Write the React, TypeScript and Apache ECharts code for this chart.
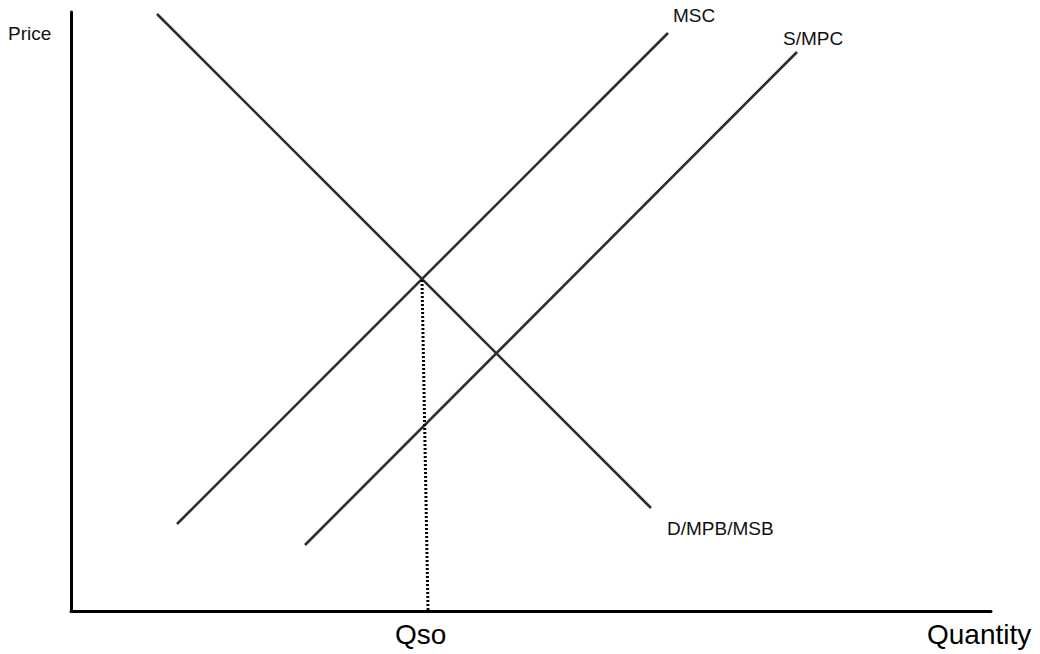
import React, { useEffect, useRef } from "react";
import * as echarts from "echarts";

// Curves as [quantity, price] endpoints (chart units)
const demandMPB: [number, number][] = [[86, 597], [580, 103]];
const mscCurve: [number, number][] = [[106, 87], [597, 578]];
const supplyMPC: [number, number][] = [[234, 66], [726, 559]];
const qsoDrop: [number, number][] = [[351, 331], [357, 1]];

const curveNames = ["D/MPB/MSB", "MSC", "S/MPC"];
const axisTitles = { y: "Price", x: "Quantity", q: "Qso" };

const LINE = "#2e2e2e";
const FONT = "Liberation Sans, Arial, sans-serif";

export default function App() {
  const ref = useRef<HTMLDivElement>(null);
  useEffect(() => {
    if (!ref.current) return;
    const chart = echarts.init(ref.current, undefined, { renderer: "svg" });
    const lineSeries = (name: string, data: [number, number][]) => ({
      name,
      type: "line",
      data,
      symbol: "none",
      silent: true,
      lineStyle: { color: LINE, width: 2.6 },
    });
    const txt = (text: string, x: number, y: number, size: number, fill: string) => ({
      type: "text",
      left: x,
      top: y,
      silent: true,
      style: { text, fill, font: `${size}px ${FONT}` },
    });
    chart.setOption({
      animation: false,
      backgroundColor: "#ffffff",
      grid: { left: 71, right: 49, top: 12, bottom: 43 },
      xAxis: {
        type: "value",
        min: 0,
        max: 920,
        axisLine: { show: true, lineStyle: { color: "#000", width: 3 } },
        axisTick: { show: false },
        axisLabel: { show: false },
        splitLine: { show: false },
      },
      yAxis: {
        type: "value",
        min: 0,
        max: 599,
        axisLine: { show: true, lineStyle: { color: "#000", width: 3 } },
        axisTick: { show: false },
        axisLabel: { show: false },
        splitLine: { show: false },
      },
      series: [
        lineSeries(curveNames[0], demandMPB),
        lineSeries(curveNames[1], mscCurve),
        lineSeries(curveNames[2], supplyMPC),
        {
          name: "Qso",
          type: "line",
          data: qsoDrop,
          symbol: "none",
          silent: true,
          lineStyle: { color: "#000", width: 3, type: [2, 2] },
        },
      ],
      graphic: [
        txt(axisTitles.y, 8, 24, 19, "#111"),
        txt(curveNames[1], 673, 6, 19, "#111"),
        txt(curveNames[2], 783, 29, 19, "#111"),
        txt(curveNames[0], 667, 519, 19, "#111"),
        txt(axisTitles.q, 395, 620, 28, "#000"),
        txt(axisTitles.x, 927, 620, 28, "#000"),
      ],
    });
    return () => chart.dispose();
  }, []);
  return <div ref={ref} style={{ width: 1040, height: 654, position: "absolute", left: 0, top: 0 }} />;
}
